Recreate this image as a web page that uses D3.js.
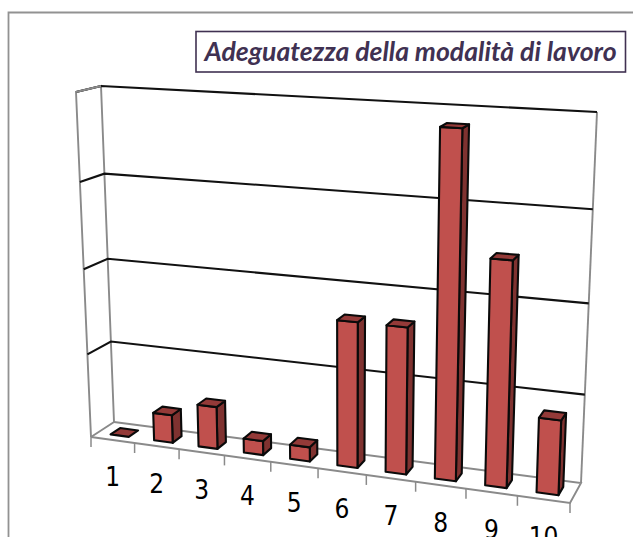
<!DOCTYPE html>
<html><head><meta charset="utf-8">
<script src="https://cdnjs.cloudflare.com/ajax/libs/d3/7.8.5/d3.min.js"></script>
<style>html,body{margin:0;padding:0;background:#fff;overflow:hidden}svg{display:block}</style>
</head><body>
<svg id="c" width="633" height="537"></svg>
<script>
const categories = ["1","2","3","4","5","6","7","8","9","10"];
const values = [0,2,3,1,1,10,10,23,15,5];
const gridValues = [0,6,12,18,24];
const chartTitle = "Adeguatezza della modalità di lavoro";

const svg = d3.select("#c");

// unit-square -> quad homography
function homography(p00,p10,p11,p01){
  const [x0,y0]=p00,[x1,y1]=p10,[x2,y2]=p11,[x3,y3]=p01;
  const dx1=x1-x2,dx2=x3-x2,dx3=x0-x1+x2-x3;
  const dy1=y1-y2,dy2=y3-y2,dy3=y0-y1+y2-y3;
  const den=dx1*dy2-dx2*dy1;
  const g=(dx3*dy2-dx2*dy3)/den,h=(dx1*dy3-dx3*dy1)/den;
  const a=x1-x0+g*x1,b=x3-x0+h*x3,c=x0,d=y1-y0+g*y1,e=y3-y0+h*y3,f=y0;
  return (u,v)=>{const q=g*u+h*v+1;return [(a*u+b*v+c)/q,(d*u+e*v+f)/q];};
}
const backPlane  = homography([114,422],[581,483],[597,112],[101,86]);
const frontPlane = homography([91,437],[570,503],[584,122],[76,92]);
function project(u,v,w){
  const f=frontPlane(u,v),b=backPlane(u,v);
  return [f[0]+(b[0]-f[0])*w,f[1]+(b[1]-f[1])*w];
}

const x = d3.scaleBand().domain(categories).range([0,1]).paddingInner(0.58).paddingOuter(0.29);
const y = d3.scaleLinear().domain([0,24]).range([0,1]);
const step = x.step();
const depth0 = 0.29, depth1 = 0.71;
const line = d3.line();

// outer frame
svg.append("path").attr("d","M8.5,537V12.5H633").attr("fill","none").attr("stroke","#929292").attr("stroke-width",1.8);

// title
svg.append("rect").attr("x",196).attr("y",31.5).attr("width",429.5).attr("height",40.5)
  .attr("fill","#fff").attr("stroke","#403152").attr("stroke-width",1.6);
svg.append("text").attr("x",410.5).attr("y",61).attr("text-anchor","middle")
  .attr("font-family","Lato").attr("font-weight",700).attr("font-style","italic").attr("font-size",26.6)
  .attr("fill","#403152").text(chartTitle);

// walls and floor outline
const grey="#8a8a8a";
const seg=(pts,col,sw)=>svg.append("path").attr("d",line(pts)).attr("fill","none").attr("stroke",col).attr("stroke-width",sw);
seg([project(0,0,0),project(0,1,0),project(0,1,1),project(0,0,1),project(0,0,0)],grey,1.9);
seg([project(1,0,1),project(1,1,1)],grey,1.9);
seg([project(0,0,0),project(1,0,0),project(1,0,1),project(0,0,1)],grey,1.9);

// gridlines
gridValues.filter(d=>d>0).forEach(d=>{
  const v=y(d);
  seg([project(0,v,0),project(0,v,1),project(1,v,1)],"#111",2.1);
});
seg([project(0,1,0),project(0,1,1)],grey,1.9);

// ticks on the category axis
d3.range(categories.length+1).forEach(i=>{
  const p=project(i*step,0,0);
  seg([p,[p[0],p[1]+10]],grey,1.5);
});

// bars
const barColors={front:"#c0504d",side:"#7f3230",top:"#943a38"};
categories.forEach((c,i)=>{
  const u0=x(c)+0.001,u1=u0+x.bandwidth(),v=y(values[i]);
  const g=svg.append("g").attr("stroke","#0a0a0a").attr("stroke-width",2.1).attr("stroke-linejoin","round");
  const face=(pts,col)=>g.append("path").attr("d",line(pts)+"Z").attr("fill",col);
  if(values[i]>0){
    face([project(u1,0,depth0),project(u1,0,depth1),project(u1,v,depth1),project(u1,v,depth0)],barColors.side);
    face([project(u0,0,depth0),project(u1,0,depth0),project(u1,v,depth0),project(u0,v,depth0)],barColors.front);
  }
  face([project(u0,v,depth0),project(u1,v,depth0),project(u1,v,depth1),project(u0,v,depth1)],barColors.top);
});

// category labels
categories.forEach(c=>{
  const p=project(x(c)+x.bandwidth()/2,0,0);
  svg.append("text").attr("x",p[0]).attr("y",p[1]+46.5).attr("text-anchor","middle")
    .attr("font-family","'DejaVu Sans'").style("font-stretch","condensed")
    .attr("font-size",26).attr("fill","#000").text(c);
});
</script>
</body></html>
